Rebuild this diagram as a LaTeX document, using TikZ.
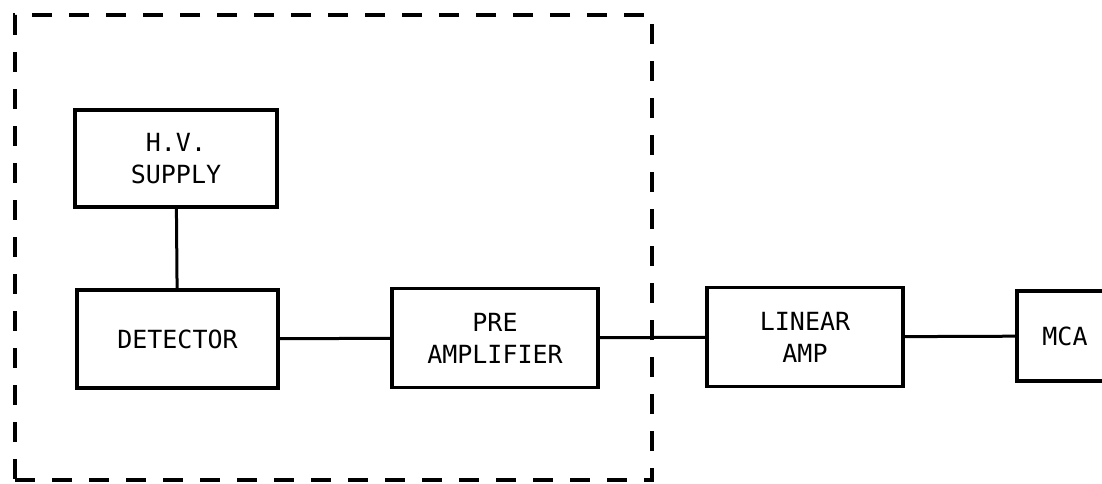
\documentclass[tikz,border=0pt]{standalone}
\usepackage{fontspec}
\newfontfamily\blockfont{DejaVu Sans Mono}
\tikzset{
  blk/.style={draw, line width=3.5pt, align=center, inner sep=0pt,
    font=\blockfont\fontsize{25}{32}\selectfont},
  wire/.style={line width=3pt},
}
\begin{document}
\begin{tikzpicture}[x=1pt, y=-1pt]
\useasboundingbox (0,0) rectangle (1102,483);
% shielded part
\node[draw, line width=3.5pt, dash pattern=on 20pt off 17pt, inner sep=0pt,
  minimum width=637pt, minimum height=465pt] (frame) at (333.5,247.5) {};

\node[blk, minimum width=202pt, minimum height=97pt] (hv) at (176,158.5) {H.V.\\SUPPLY};
\node[blk, minimum width=201pt, minimum height=98pt] (det) at (177.5,339) {DETECTOR};
\node[blk, minimum width=206pt, minimum height=99pt] (pre) at (495,338) {PRE\\AMPLIFIER};
\node[blk, minimum width=196pt, minimum height=99pt] (lin) at (805,337) {LINEAR\\AMP};
\node[blk, minimum width=96pt, minimum height=90pt] (mca) at (1065,336) {MCA};

\draw[wire] (hv) -- (det);
\draw[wire] (det) -- (pre);
\draw[wire] (pre) -- (lin);
\draw[wire] (lin) -- (mca);
\end{tikzpicture}
\end{document}
